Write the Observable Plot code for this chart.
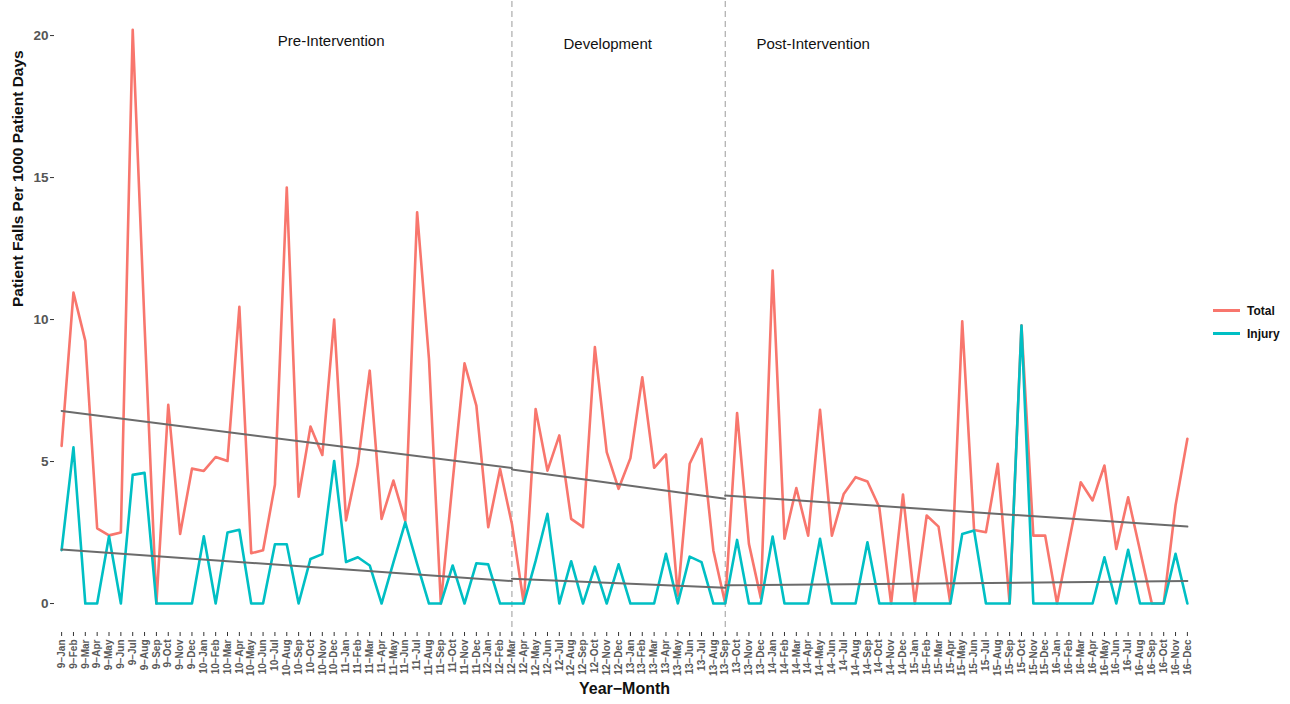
<!DOCTYPE html>
<html>
<head>
<meta charset="utf-8">
<script src="https://cdn.jsdelivr.net/npm/d3@7"></script>
<script src="https://cdn.jsdelivr.net/npm/@observablehq/plot@0.6"></script>
<style>
  html, body { margin: 0; padding: 0; background: #fff; }
  #wrap { position: relative; width: 1290px; height: 704px; font-family: "Liberation Sans", Arial, Helvetica, sans-serif; }
  #legend { position: absolute; left: 1213px; top: 299px; font-weight: bold; font-size: 12px; color: #111; }
  .item { display: flex; align-items: center; height: 23px; }
  .swatch { width: 27px; height: 3px; margin-right: 7px; }
</style>
</head>
<body>
<div id="wrap">
  <div id="chart"></div>
  <div id="legend"></div>
</div>
<script>
// ---- Data ----
const months = [
  "9-Jan","9-Feb","9-Mar","9-Apr","9-May","9-Jun","9-Jul","9-Aug","9-Sep","9-Oct","9-Nov","9-Dec",
  "10-Jan","10-Feb","10-Mar","10-Apr","10-May","10-Jun","10-Jul","10-Aug","10-Sep","10-Oct","10-Nov","10-Dec",
  "11-Jan","11-Feb","11-Mar","11-Apr","11-May","11-Jun","11-Jul","11-Aug","11-Sep","11-Oct","11-Nov","11-Dec",
  "12-Jan","12-Feb","12-Mar","12-Apr","12-May","12-Jun","12-Jul","12-Aug","12-Sep","12-Oct","12-Nov","12-Dec",
  "13-Jan","13-Feb","13-Mar","13-Apr","13-May","13-Jun","13-Jul","13-Aug","13-Sep","13-Oct","13-Nov","13-Dec",
  "14-Jan","14-Feb","14-Mar","14-Apr","14-May","14-Jun","14-Jul","14-Aug","14-Sep","14-Oct","14-Nov","14-Dec",
  "15-Jan","15-Feb","15-Mar","15-Apr","15-May","15-Jun","15-Jul","15-Aug","15-Sep","15-Oct","15-Nov","15-Dec",
  "16-Jan","16-Feb","16-Mar","16-Apr","16-May","16-Jun","16-Jul","16-Aug","16-Sep","16-Oct","16-Nov","16-Dec"
];

const totalValues = [
  5.55, 10.95, 9.25, 2.65, 2.4, 2.5, 20.2, 9.8, 0, 7.0, 2.45, 4.75,
  4.67, 5.16, 5.02, 10.45, 1.77, 1.88, 4.18, 14.65, 3.76, 6.23, 5.23, 10.0,
  2.93, 4.92, 8.2, 2.98, 4.33, 2.9, 13.78, 8.62, 0, 4.3, 8.46, 6.97,
  2.69, 4.74, 2.8, 0, 6.85, 4.68, 5.92, 2.98, 2.69, 9.03, 5.33, 4.04,
  5.12, 7.97, 4.78, 5.25, 0.28, 4.92, 5.8, 1.87, 0, 6.71, 2.1, 0.2,
  11.73, 2.28, 4.07, 2.39, 6.82, 2.39, 3.86, 4.45, 4.3, 3.39, 0, 3.84,
  0, 3.1, 2.71, 0, 9.94, 2.59, 2.51, 4.92, 0, 9.8, 2.39, 2.39,
  0, 2.16, 4.27, 3.63, 4.86, 1.92, 3.74, 1.87, 0, 0, 3.45, 5.8
];

const injuryValues = [
  1.88, 5.5, 0, 0, 2.37, 0, 4.53, 4.6, 0, 0, 0, 0,
  2.37, 0, 2.5, 2.6, 0, 0, 2.09, 2.09, 0, 1.57, 1.74, 5.02,
  1.46, 1.63, 1.34, 0, 1.45, 2.86, 1.4, 0, 0, 1.34, 0, 1.42,
  1.38, 0, 0, 0, 1.5, 3.16, 0, 1.49, 0, 1.3, 0, 1.38,
  0, 0, 0, 1.75, 0, 1.65, 1.46, 0, 0, 2.24, 0, 0,
  2.36, 0, 0, 0, 2.28, 0, 0, 0, 2.16, 0, 0, 0,
  0, 0, 0, 0, 2.45, 2.57, 0, 0, 0, 9.79, 0, 0,
  0, 0, 0, 0, 1.63, 0, 1.89, 0, 0, 0, 1.75, 0
];

// Segmented trend lines (start month, end month, start value, end value)
const trendSegments = ["Pre", "Development", "Post"];
const trendStart = ["9-Jan", "12-Mar", "13-Sep"];
const trendEnd = ["12-Mar", "13-Sep", "16-Dec"];
const totalTrendStartValues = [6.78, 4.72, 3.8];
const totalTrendEndValues = [4.77, 3.69, 2.71];
const injuryTrendStartValues = [1.9, 0.87, 0.64];
const injuryTrendEndValues = [0.79, 0.56, 0.79];

const dividers = ["12-Mar", "13-Sep"];

const phaseLabels = ["Pre-Intervention", "Development", "Post-Intervention"];
const phaseMonths = ["10-Dec", "12-Nov", "14-Apr"];
const phaseY = [19.8, 19.7, 19.7];

const seriesNames = ["Total", "Injury"];
const seriesColors = ["#F8766D", "#00BFC4"];

const yTicks = [0, 5, 10, 15, 20];

// ---- Build tables ----
const totalRows = months.map((m, i) => ({month: m, value: totalValues[i]}));
const injuryRows = months.map((m, i) => ({month: m, value: injuryValues[i]}));
const trendRows = [];
trendSegments.forEach((s, k) => {
  trendRows.push({seg: "T" + s, month: trendStart[k], value: totalTrendStartValues[k]});
  trendRows.push({seg: "T" + s, month: trendEnd[k], value: totalTrendEndValues[k]});
  trendRows.push({seg: "I" + s, month: trendStart[k], value: injuryTrendStartValues[k]});
  trendRows.push({seg: "I" + s, month: trendEnd[k], value: injuryTrendEndValues[k]});
});
const phaseRows = phaseLabels.map((t, i) => ({text: t, month: phaseMonths[i], value: phaseY[i]}));
const phaseDx = [-3, 1, 5];

const font = "'Liberation Sans', Arial, Helvetica, sans-serif";

const chart = Plot.plot({
  width: 1290,
  height: 704,
  marginLeft: 54,
  marginRight: 96,
  marginTop: 1,
  marginBottom: 72,
  style: {fontFamily: font, background: "#fff"},
  x: {type: "point", domain: months, padding: 0.6},
  y: {domain: [-1.02, 21.2]},
  marks: [
    Plot.ruleX(dividers, {x: d => d, stroke: "#9a9a9a", strokeWidth: 1, strokeDasharray: "6,4"}),
    Plot.line(totalRows, {x: "month", y: "value", stroke: seriesColors[0], strokeWidth: 2.6, curve: "linear"}),
    Plot.line(injuryRows, {x: "month", y: "value", stroke: seriesColors[1], strokeWidth: 2.6, curve: "linear"}),
    Plot.line(trendRows, {x: "month", y: "value", z: "seg", stroke: "#6b6b6b", strokeWidth: 2}),
    ...phaseRows.map((r, i) => Plot.text([r], {x: "month", y: "value", text: "text", dx: phaseDx[i], fontSize: 15, fill: "#111"})),
    Plot.axisY({ticks: yTicks, tickSize: 4, tickPadding: 2, fontSize: 13.5, fontWeight: "bold", color: "#555", stroke: "#333", label: null}),
    Plot.axisX({tickRotate: -90, tickSize: 4, tickPadding: 3, fontSize: 10, fontWeight: "bold", color: "#5a5a5a", stroke: "#333", label: null,
      tickFormat: d => d.replace("-", "\u2212")}),
    Plot.text(["Year\u2212Month"], {frameAnchor: "bottom", dy: 61, fontSize: 16, fontWeight: "bold", fill: "#111"}),
    Plot.text(["Patient Falls Per 1000 Patient Days"], {frameAnchor: "left", dx: -36, dy: -10, rotate: -90, fontSize: 15.5, fontWeight: "bold", fill: "#111"})
  ]
});
document.getElementById("chart").appendChild(chart);

// ---- Legend ----
const legend = document.getElementById("legend");
seriesNames.forEach((n, i) => {
  const item = document.createElement("div");
  item.className = "item";
  const sw = document.createElement("div");
  sw.className = "swatch";
  sw.style.background = seriesColors[i];
  const lab = document.createElement("span");
  lab.textContent = n;
  item.appendChild(sw);
  item.appendChild(lab);
  legend.appendChild(item);
});
</script>
</body>
</html>
